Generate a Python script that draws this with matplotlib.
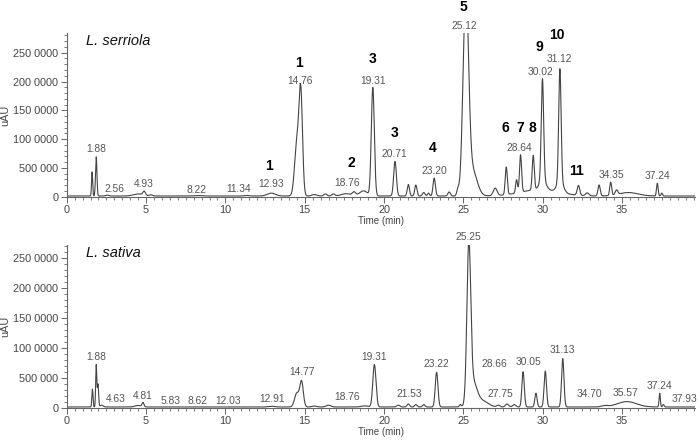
import numpy as np
import matplotlib.pyplot as plt
from matplotlib.ticker import MultipleLocator

plt.rcParams['font.family'] = ['Liberation Sans', 'DejaVu Sans']

# Y tick values and the labels as printed in the original figure
Y_TICKS = [0, 500000, 1000000, 1500000, 2000000, 2500000]
Y_TICK_LABELS = ["0", "500 000", "100 0000", "150 0000", "200 0000", "250 0000"]

# Peak tables: retention time (min), height (uAU), width (min)
SERRIOLA_RT = [1.60, 1.86, 2.56, 4.50, 4.88, 5.30, 8.22, 11.34, 12.90, 14.50, 14.75,
               15.60, 16.30, 16.80, 17.60, 18.10, 18.70, 19.29, 20.69, 21.53, 22.00,
               22.50, 22.80, 23.16, 24.10, 24.65, 25.15, 25.55, 27.00, 27.70, 28.35,
               28.60, 29.40, 29.80, 29.98, 30.00, 31.08, 31.10, 32.25, 32.80, 33.55,
               34.28, 34.65, 35.40, 37.22, 37.50]
SERRIOLA_H = [420000, 680000, 15000, 35000, 70000, 20000, 8000, 10000, 50000, 900000, 1750000,
              25000, 35000, 35000, 40000, 60000, 90000, 1880000, 600000, 200000, 190000,
              60000, 50000, 310000, 70000, 100000, 3500000, 450000, 130000, 480000, 230000,
              650000, 600000, 110000, 1750000, 180000, 1950000, 200000, 170000, 50000, 190000,
              230000, 80000, 60000, 220000, 50000]
SERRIOLA_W = [0.035, 0.045, 0.10, 0.30, 0.08, 0.10, 0.20, 0.15, 0.25, 0.14, 0.11,
              0.15, 0.10, 0.10, 0.30, 0.10, 0.25, 0.095, 0.085, 0.07, 0.07,
              0.08, 0.06, 0.075, 0.08, 0.07, 0.17, 0.30, 0.12, 0.065, 0.06,
              0.065, 0.065, 1.20, 0.075, 0.20, 0.075, 0.20, 0.08, 0.10, 0.07,
              0.06, 0.08, 0.60, 0.05, 0.05]

SATIVA_RT = [1.62, 1.86, 1.97, 2.20, 4.50, 4.81, 12.91, 14.50, 14.80, 15.60, 16.50,
             18.76, 19.39, 20.90, 21.53, 22.00, 22.50, 23.31, 24.80, 25.34, 25.60,
             26.20, 27.20, 27.75, 28.20, 28.76, 29.57, 30.16, 31.26, 33.90, 35.30,
             37.37, 37.60]
SATIVA_H = [300000, 700000, 380000, 30000, 25000, 70000, 12000, 230000, 420000, 15000, 30000,
            20000, 710000, 30000, 50000, 40000, 40000, 580000, 40000, 2550000, 400000,
            100000, 30000, 50000, 40000, 590000, 230000, 600000, 810000, 20000, 90000,
            230000, 40000]
SATIVA_W = [0.035, 0.035, 0.04, 0.10, 0.20, 0.06, 0.20, 0.14, 0.11, 0.15, 0.15,
            0.20, 0.10, 0.10, 0.08, 0.08, 0.08, 0.085, 0.06, 0.12, 0.25,
            0.35, 0.10, 0.10, 0.10, 0.075, 0.07, 0.075, 0.075, 0.20, 0.60,
            0.04, 0.05]

# Retention-time labels: text, x (min), y (uAU)
SERRIOLA_LABELS = [("1.88", 1.86, 823000), ("2.56", 3.02, 128000), ("4.93", 4.86, 215000),
                   ("8.22", 8.20, 116000), ("11.34", 10.83, 128000), ("12.93", 12.86, 215000),
                   ("14.76", 14.70, 2010000), ("18.76", 17.66, 243000), ("19.31", 19.29, 2010000),
                   ("20.71", 20.66, 741000), ("23.20", 23.16, 441000), ("25.12", 25.06, 2960000),
                   ("28.64", 28.55, 851000), ("30.02", 29.86, 2160000), ("31.12", 31.05, 2390000),
                   ("34.35", 34.30, 377000), ("37.24", 37.22, 365000)]
SATIVA_LABELS = [("1.88", 1.86, 853000), ("4.63", 3.11, 145000), ("4.81", 4.76, 196000),
                 ("5.83", 6.55, 112000), ("8.62", 8.25, 112000), ("12.03", 10.19, 112000),
                 ("12.91", 12.94, 140000), ("14.77", 14.80, 592000), ("18.76", 17.66, 184000),
                 ("19.31", 19.35, 853000), ("21.53", 21.61, 229000), ("23.22", 23.31, 731000),
                 ("25.25", 25.34, 2860000), ("28.66", 26.92, 731000), ("27.75", 27.32, 229000),
                 ("30.05", 29.12, 769000), ("31.13", 31.26, 965000), ("34.70", 32.95, 229000),
                 ("35.57", 35.22, 251000), ("37.24", 37.37, 368000), ("37.93", 38.92, 140000)]

# Compound numbers (L. serriola only)
COMPOUND_LABELS = [("1", 12.75, 533000), ("1", 14.66, 2330000), ("2", 17.91, 590000),
                   ("3", 19.25, 2390000), ("3", 20.66, 1110000), ("4", 23.05, 840000),
                   ("5", 25.02, 3300000), ("6", 27.64, 1200000), ("7", 28.55, 1200000),
                   ("8", 29.35, 1200000), ("9", 29.76, 2600000), ("10", 30.92, 2810000),
                   ("11", 32.14, 451000)]

BASELINE = 12000


def trace(times, rts, heights, widths):
    y = np.full_like(times, BASELINE)
    for rt, h, w in zip(rts, heights, widths):
        y += h * np.exp(-0.5 * ((times - rt) / w) ** 2)
    return y


def style_axis(ax, ymax, name):
    ax.set_xlim(0, 39.6)
    ax.set_ylim(0, ymax)
    for side in ['top', 'right']:
        ax.spines[side].set_visible(False)
    for side in ['left', 'bottom']:
        ax.spines[side].set_color('#666666')
        ax.spines[side].set_linewidth(0.8)
    ax.set_yticks(Y_TICKS)
    ax.set_yticklabels(Y_TICK_LABELS)
    ax.set_xticks([0, 5, 10, 15, 20, 25, 30, 35])
    ax.xaxis.set_minor_locator(MultipleLocator(0.5))
    ax.yaxis.set_minor_locator(MultipleLocator(100000))
    ax.tick_params(which='major', length=4, width=0.7, color='#666666',
                   labelsize=7.8, labelcolor='#444444', pad=2)
    ax.tick_params(which='minor', length=2, width=0.6, color='#666666')
    ax.set_xlabel('Time (min)', fontsize=7, color='#444444', labelpad=1)
    ax.set_ylabel('uAU', fontsize=7.8, color='#444444', labelpad=2)
    ax.text(0.031, 0.953, name, transform=ax.transAxes, fontsize=10.5,
            style='italic', va='center', ha='left', color='#111111')


t = np.linspace(0, 39.6, 6000)

fig = plt.figure(figsize=(7, 4.42), dpi=100)
ax1 = fig.add_axes([0.0953, 0.555, 0.8977, 0.370])
ax2 = fig.add_axes([0.0953, 0.0776, 0.8977, 0.368])

ax1.plot(t, trace(t, SERRIOLA_RT, SERRIOLA_H, SERRIOLA_W), color='#444444', lw=0.8)
ax2.plot(t, trace(t, SATIVA_RT, SATIVA_H, SATIVA_W), color='#444444', lw=0.8)

style_axis(ax1, 2840000, 'L. serriola')
style_axis(ax2, 2720000, 'L. sativa')

for ax, labels in [(ax1, SERRIOLA_LABELS), (ax2, SATIVA_LABELS)]:
    for txt, x, y in labels:
        ax.text(x, y, txt, fontsize=7.4, color='#555555', ha='center', va='center',
                clip_on=False)

for txt, x, y in COMPOUND_LABELS:
    ax1.text(x, y, txt, fontsize=10, fontweight='bold', color='black',
             ha='center', va='center', clip_on=False)

fig.savefig('out.png', dpi=100)
